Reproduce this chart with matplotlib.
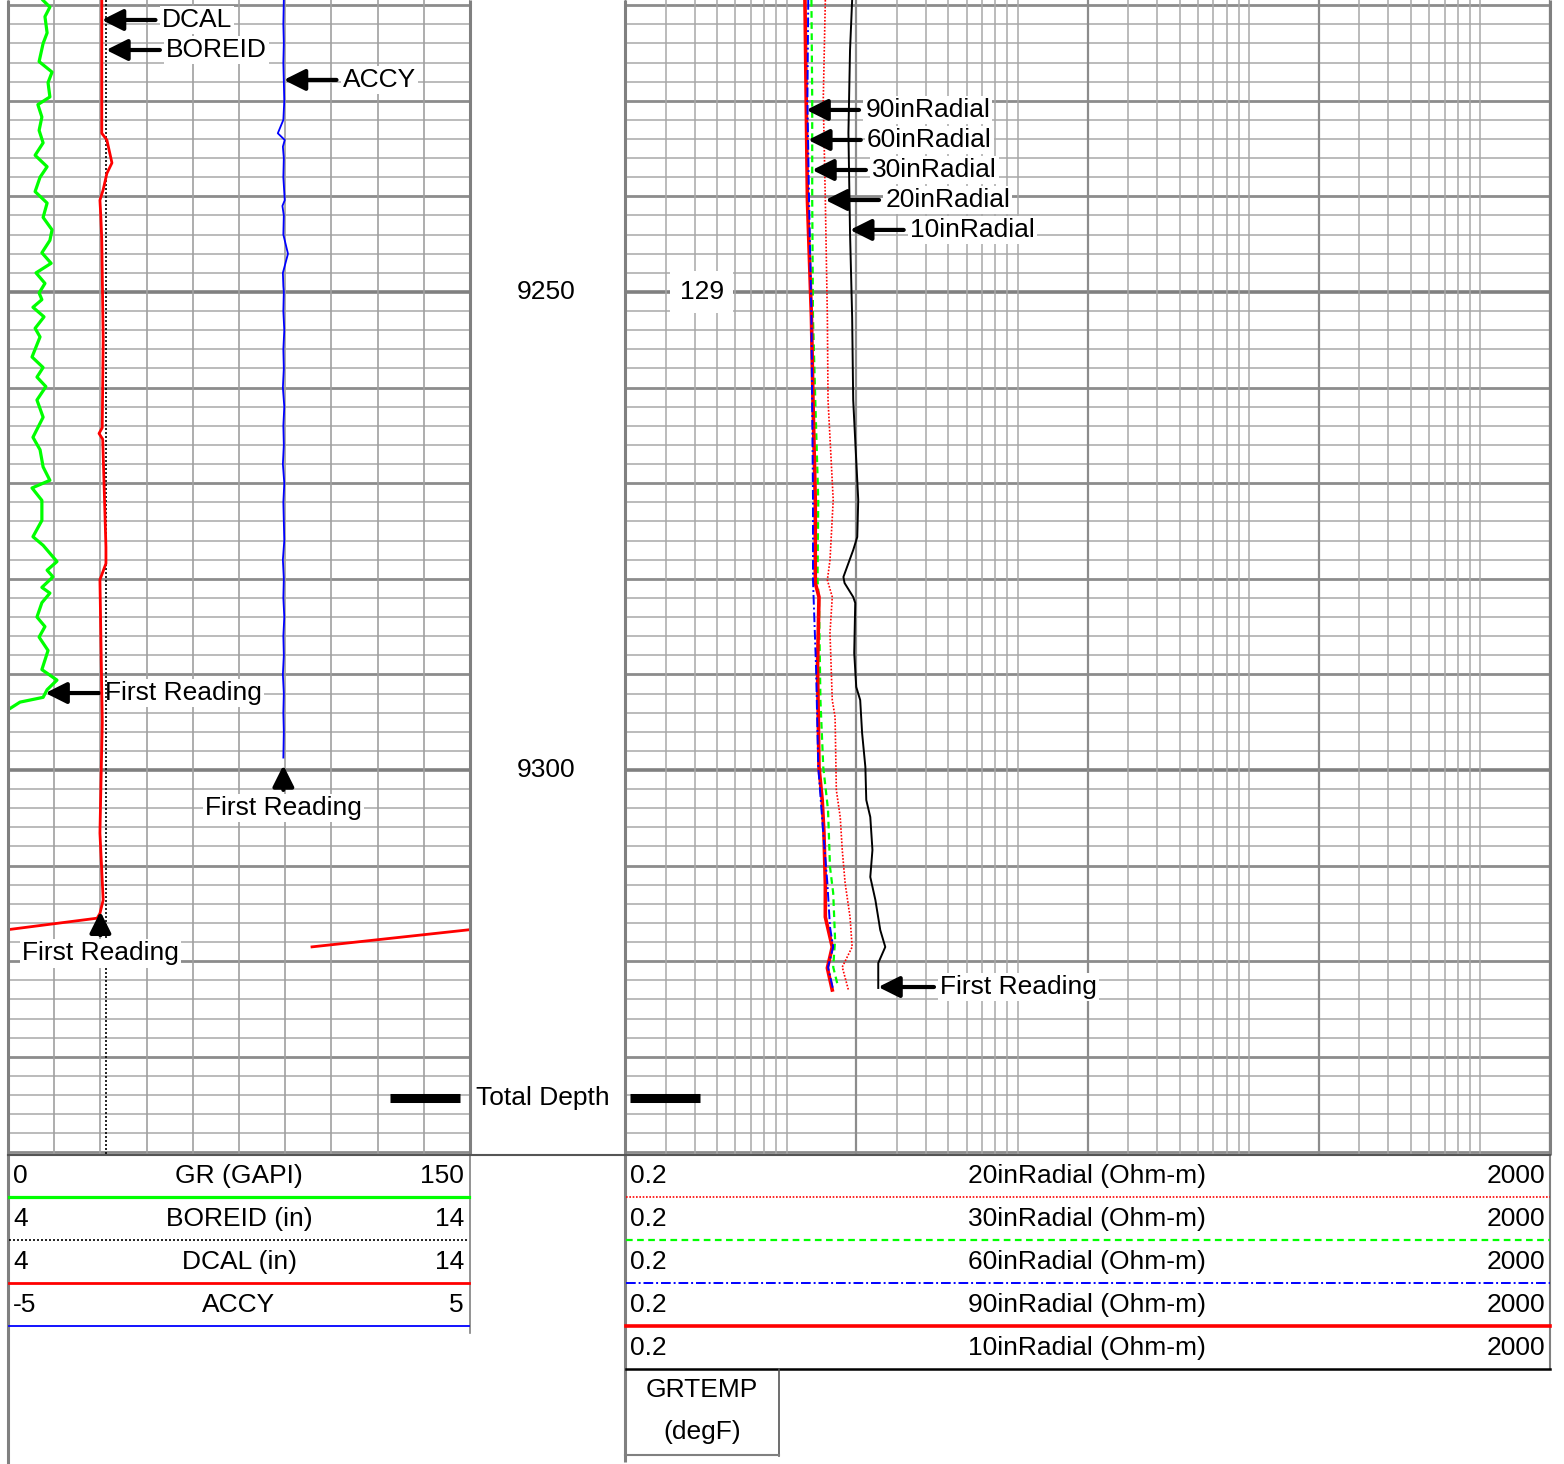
import numpy as np
import matplotlib
matplotlib.use('Agg')
import matplotlib.pyplot as plt
import matplotlib.transforms as mtransforms

plt.rcParams['font.family'] = ['Liberation Sans', 'DejaVu Sans']
FS = 19

# ---- depth window (ft) ----
top_depth = 9219.46
bottom_depth = 9340.27
depth_labels = [9250, 9300]
total_depth = 9334.3

# ---- track 1 curves ----
gr_depth = [9219.5, 9220.2, 9221.2, 9222.9, 9224.0, 9225.9, 9227.0, 9228.1, 9229.6, 9230.4,
            9231.7, 9233.1, 9234.4, 9235.7, 9236.9, 9238.0, 9239.5, 9240.7, 9242.2, 9243.5,
            9244.6, 9245.9, 9247.0, 9248.0, 9249.1, 9250.1, 9250.8, 9251.6, 9252.6, 9253.8,
            9254.7, 9256.8, 9257.9, 9258.9, 9259.9, 9261.3, 9263.1, 9265.2, 9266.5, 9268.3,
            9269.7, 9270.5, 9271.8, 9273.9, 9275.6, 9276.5, 9278.2, 9279.1, 9279.8, 9280.9,
            9281.5, 9282.5, 9284.0, 9285.0, 9286.1, 9287.5, 9289.5, 9290.6, 9291.6, 9292.4,
            9292.9, 9293.7]
gr_val = [11.4, 13.6, 12.0, 12.7, 11.4, 10.1, 14.3, 13.0, 13.6, 9.7,
          11.0, 10.1, 11.4, 8.8, 12.7, 10.4, 8.8, 12.7, 11.4, 14.3,
          13.6, 11.0, 14.0, 9.1, 12.0, 10.1, 11.0, 8.1, 11.7, 8.8,
          10.4, 7.8, 11.4, 9.4, 12.3, 9.4, 11.4, 8.1, 10.4, 11.4,
          13.6, 7.8, 11.0, 11.0, 8.1, 11.4, 15.9, 12.7, 14.6, 11.0,
          13.6, 11.0, 9.4, 12.0, 10.1, 13.0, 11.0, 15.9, 12.7, 11.4,
          3.9, 0.0]

dcal_depth = [9219.5, 9233.4, 9234.1, 9236.5, 9237.6, 9239.3, 9240.4, 9242.2, 9244.6, 9255.0,
              9264.2, 9264.8, 9265.4, 9276.7, 9278.4, 9280.1, 9295.0, 9306.6, 9313.6, 9315.0,
              9315.5, 9316.7, 9318.5]
dcal_val = [6.03, 6.03, 6.14, 6.25, 6.14, 6.06, 5.99, 6.01, 6.03, 6.06,
            6.04, 5.97, 6.05, 6.12, 6.12, 5.99, 6.04, 5.99, 6.06, 5.99,
            5.93, 4.0, 0.58]

boreid_depth = [9219.46, 9340.27]
boreid_val = [6.125, 6.125]

accy_depth = [9219.5, 9222, 9224, 9226, 9228, 9230, 9232, 9233.4, 9234.1, 9234.8,
              9236, 9238, 9240.4, 9241, 9242, 9244, 9246, 9248, 9249.4, 9250,
              9252, 9254, 9256, 9258, 9260, 9262, 9264, 9266, 9268, 9270,
              9272, 9274, 9276, 9278, 9280, 9282, 9284, 9286, 9288, 9290,
              9292, 9294, 9296, 9298.7]
accy_val = [0.97, 0.96, 0.97, 0.96, 0.97, 0.98, 0.96, 0.84, 0.99, 0.95,
            0.97, 0.96, 0.99, 0.94, 0.97, 0.96, 1.06, 0.95, 0.96, 0.97,
            0.96, 0.98, 0.96, 0.97, 0.95, 0.98, 0.96, 0.97, 0.95, 0.98,
            0.96, 0.97, 0.98, 0.95, 0.97, 0.96, 0.98, 0.96, 0.97, 0.95,
            0.97, 0.96, 0.97, 0.96]

# ---- track 2 resistivity curves (Ohm-m) ----
r10_depth = [9219.46, 9224.69, 9233.37, 9243.83, 9252.62, 9261.3, 9271.76, 9275.63, 9277.0,
             9279.81, 9280.44, 9281.9, 9282.53, 9287.76, 9291.32, 9292.68, 9296.13, 9299.69,
             9303.14, 9304.92, 9308.37, 9311.19, 9313.6, 9316.74, 9318.51, 9320.19, 9322.8]
r10_val = [1.92, 1.88, 1.85, 1.88, 1.92, 1.94, 2.04, 2.02, 1.94,
           1.76, 1.78, 1.94, 1.98, 1.96, 2.00, 2.08, 2.12, 2.19,
           2.21, 2.30, 2.35, 2.30, 2.42, 2.54, 2.67, 2.49, 2.49]

r20_depth = [9219.46, 9229.92, 9240.38, 9252.62, 9261.3, 9271.76, 9278.03, 9280.13, 9281.9,
             9285.67, 9292.68, 9294.46, 9302.09, 9304.92, 9308.37, 9311.82, 9315.38, 9318.51,
             9320.61, 9323.01]
r20_val = [1.47, 1.44, 1.47, 1.50, 1.51, 1.59, 1.54, 1.50, 1.575,
           1.54, 1.575, 1.62, 1.64, 1.705, 1.74, 1.79, 1.88, 1.92,
           1.74, 1.85]

r30_depth = [9219.46, 9229.92, 9240.38, 9252.62, 9261.3, 9271.76, 9280.13, 9282.22, 9292.68,
             9299.69, 9304.18, 9310.15, 9312.87, 9317.78, 9320.61, 9322.7]
r30_val = [1.28, 1.29, 1.29, 1.30, 1.33, 1.37, 1.36, 1.38, 1.40,
           1.44, 1.51, 1.54, 1.59, 1.62, 1.59, 1.67]

r60_depth = [9219.46, 9229.92, 9240.38, 9252.62, 9271.76, 9280.13, 9289.23, 9299.69, 9306.59,
             9311.82, 9316.42, 9318.51, 9320.61, 9323.01]
r60_val = [1.24, 1.23, 1.25, 1.28, 1.30, 1.30, 1.34, 1.37, 1.44,
           1.50, 1.54, 1.59, 1.51, 1.59]

r90_depth = [9219.46, 9229.92, 9240.38, 9252.62, 9261.3, 9271.76, 9280.44, 9281.9, 9289.23,
             9299.69, 9303.14, 9306.59, 9311.82, 9315.38, 9318.51, 9320.71, 9323.01]
r90_val = [1.20, 1.215, 1.23, 1.28, 1.30, 1.33, 1.33, 1.38, 1.36,
           1.38, 1.425, 1.45, 1.47, 1.47, 1.575, 1.50, 1.575]

grtemp_depth = [9250]
grtemp_val = [129]

# ---- header tables ----
t1_names = ['GR (GAPI)', 'BOREID (in)', 'DCAL (in)', 'ACCY']
t1_lo = ['0', '4', '4', '-5']
t1_hi = ['150', '14', '14', '5']
t2_names = ['20inRadial (Ohm-m)', '30inRadial (Ohm-m)', '60inRadial (Ohm-m)',
            '90inRadial (Ohm-m)', '10inRadial (Ohm-m)']
t2_lo = ['0.2'] * 5
t2_hi = ['2000'] * 5

# line styles
GREEN, RED, BLUE = '#00ff00', '#ff0000', '#0000ff'
st_gr = dict(color=GREEN, lw=2.3, ls='-')
st_bore = dict(color='black', lw=1.2, ls=(0, (1.2, 1.2)))
st_dcal = dict(color=RED, lw=2.0, ls='-')
st_accy = dict(color=BLUE, lw=1.3, ls='-')
st_r20 = dict(color=RED, lw=1.2, ls=(0, (1, 1)))
st_r30 = dict(color=GREEN, lw=1.6, ls=(0, (3, 2)))
st_r60 = dict(color=BLUE, lw=1.4, ls=(0, (5, 1.5, 1, 1.5)))
st_r90 = dict(color=RED, lw=2.6, ls='-')
st_r10 = dict(color='black', lw=1.4, ls='-')

W, H = 1564, 1464
fig = plt.figure(figsize=(W / 100, H / 100), dpi=100)


def px_axes(x0, y0, x1, y1, **kw):
    return fig.add_axes([x0 / W, 1 - y1 / H, (x1 - x0) / W, (y1 - y0) / H], **kw)


def depth_grid(ax):
    for d in range(9220, 9342, 2):
        if d % 50 == 0:
            c, lw = '#808080', 2.6
        elif d % 10 == 0:
            c, lw = '#8c8c8c', 2.0
        else:
            c, lw = '#a8a8a8', 1.1
        ax.axhline(d, color=c, lw=lw, zorder=0)


def arrow_label(ax, text, xy, dx=60, dy=0, ha='left'):
    ax.annotate(text, xy=xy, xytext=(dx * 0.72, -dy * 0.72), textcoords='offset points',
                ha=ha, va='center', fontsize=FS, zorder=20,
                bbox=dict(boxstyle='square,pad=0.08', fc='white', ec='none'),
                arrowprops=dict(arrowstyle='-|>', color='black', lw=3,
                                mutation_scale=32, shrinkA=3, shrinkB=0))


def hide(ax):
    for s in ax.spines.values():
        s.set_visible(False)
    ax.set_xticks([])
    ax.set_yticks([])


# ---- track 1 ----
ax1 = px_axes(8, 0, 470, 1155)
ax1.set_xlim(0, 150)
ax1.set_ylim(bottom_depth, top_depth)
hide(ax1)
depth_grid(ax1)
for v in np.linspace(0, 150, 11):
    ax1.axvline(v, color='#a0a0a0', lw=1.2, zorder=0)
ax1.plot(gr_val, gr_depth, **st_gr)

ax_cal = ax1.twiny()
ax_cal.set_xlim(4, 14)
ax_cal.set_ylim(bottom_depth, top_depth)
hide(ax_cal)
ax_cal.plot(boreid_val, boreid_depth, **st_bore)
dd = np.array(dcal_depth)
dv = np.array(dcal_val)
main = dv >= 4
wrap = dv <= 4
ax_cal.plot(dv[main], dd[main], **st_dcal)
ax_cal.plot(dv[wrap] + 10, dd[wrap], **st_dcal)

ax_acc = ax1.twiny()
ax_acc.set_xlim(-5, 5)
ax_acc.set_ylim(bottom_depth, top_depth)
hide(ax_acc)
ax_acc.plot(accy_val, accy_depth, **st_accy)

# labels track 1
d = 9221.55
arrow_label(ax_cal, 'DCAL', (np.interp(d, dcal_depth, dcal_val), d))
d = 9224.69
arrow_label(ax_cal, 'BOREID', (boreid_val[0], d))
d = 9227.82
arrow_label(ax_acc, 'ACCY', (np.interp(d, accy_depth, accy_val), d), dx=59)
d = 9291.95
arrow_label(ax1, 'First Reading', (np.interp(d, gr_depth, gr_val), d), dx=60)
d = accy_depth[-1] + 0.8
arrow_label(ax_acc, 'First Reading', (accy_val[-1], d), dx=0, dy=43, ha='center')
d = 9314.8
arrow_label(ax_cal, 'First Reading', (np.interp(d, dcal_depth, dcal_val), d), dx=0, dy=42, ha='center')

# ---- track 2 ----
ax2 = px_axes(625, 0, 1550, 1155)
ax2.set_xscale('log')
ax2.set_xlim(0.2, 2000)
ax2.set_ylim(bottom_depth, top_depth)
hide(ax2)
ax2.minorticks_off()
depth_grid(ax2)
for n in range(-1, 4):
    for k in range(1, 10):
        v = k * 10.0 ** n
        if 0.2 <= v <= 2000:
            heavy = k == 2
            ax2.axvline(v, color='#8c8c8c' if heavy else '#a8a8a8',
                        lw=1.6 if heavy else 1.1, zorder=0)
ax2.plot(r10_val, r10_depth, **st_r10)
ax2.plot(r20_val, r20_depth, **st_r20)
ax2.plot(r30_val, r30_depth, **st_r30)
ax2.plot(r90_val, r90_depth, **st_r90)
ax2.plot(r60_val, r60_depth, **st_r60)

label_depths = {'90inRadial': 9230.96, '60inRadial': 9234.1, '30inRadial': 9237.24,
                '20inRadial': 9240.38, '10inRadial': 9243.51}
for lab, dep, vals, dx in [('90inRadial', r90_depth, r90_val, 59),
                           ('60inRadial', r60_depth, r60_val, 59),
                           ('30inRadial', r30_depth, r30_val, 60),
                           ('20inRadial', r20_depth, r20_val, 60),
                           ('10inRadial', r10_depth, r10_val, 60)]:
    d = label_depths[lab]
    arrow_label(ax2, lab, (np.interp(d, dep, vals), d), dx=dx)
d = 9322.7
arrow_label(ax2, 'First Reading', (np.interp(d, r10_depth, r10_val), d), dx=62)

tr2 = mtransforms.blended_transform_factory(ax2.transAxes, ax2.transData)
for dep, val in zip(grtemp_depth, grtemp_val):
    ax2.text(0.083, dep, str(val), transform=tr2, ha='center', va='center', fontsize=FS,
             zorder=20, bbox=dict(boxstyle='square,pad=0.35', fc='white', ec='none'))

# ---- depth track ----
axd = px_axes(470, 0, 625, 1155, zorder=10)
axd.set_ylim(bottom_depth, top_depth)
axd.set_xlim(0, 1)
axd.set_facecolor('none')
hide(axd)
trd = mtransforms.blended_transform_factory(axd.transAxes, axd.transData)
for dep in depth_labels:
    axd.text(0.49, dep, str(dep), transform=trd, ha='center', va='center', fontsize=FS)
axd.text(0.47, total_depth, 'Total Depth', transform=trd, ha='center', va='center', fontsize=FS)
for x0, x1 in [(-0.516, -0.065), (1.032, 1.484)]:
    axd.plot([x0, x1], [total_depth, total_depth], transform=trd, color='black', lw=6.5,
             solid_capstyle='butt', clip_on=False)

# ---- overlay: borders and header ----
ov = fig.add_axes([0, 0, 1, 1], zorder=11)
ov.set_xlim(0, W)
ov.set_ylim(H, 0)
ov.set_facecolor('none')
ov.axis('off')

border = dict(color='#808080', lw=2.2, solid_capstyle='butt')
ov.plot([8, 8], [0, 1464], **border)
ov.plot([470, 470], [0, 1155], **border)
ov.plot([470, 470], [1155, 1333], color='#808080', lw=1.2)
ov.plot([625, 625], [0, 1462], **border)
ov.plot([1550, 1550], [0, 1155], **border)
ov.plot([1550, 1550], [1155, 1369], color='#808080', lw=1.5)
ov.plot([8, 1550], [1155, 1155], color='#555555', lw=1.5)

t1_styles = [st_gr, st_bore, st_dcal, st_accy]
for i, (nm, lo, hi, st) in enumerate(zip(t1_names, t1_lo, t1_hi, t1_styles)):
    ty = 1176 + 43 * i
    ly = 1197 + 43 * i
    ov.text(13, ty, lo, ha='left', va='center', fontsize=FS)
    ov.text(239, ty, nm, ha='center', va='center', fontsize=FS)
    ov.text(464, ty, hi, ha='right', va='center', fontsize=FS)
    ov.plot([9, 469], [ly, ly], **st)

t2_styles = [st_r20, st_r30, st_r60, st_r90, dict(color='black', lw=1.8, ls='-')]
for i, (nm, lo, hi, st) in enumerate(zip(t2_names, t2_lo, t2_hi, t2_styles)):
    ty = 1176 + 43 * i
    ly = 1197 + 43 * i
    ov.text(630, ty, lo, ha='left', va='center', fontsize=FS)
    ov.text(1087, ty, nm, ha='center', va='center', fontsize=FS)
    ov.text(1545, ty, hi, ha='right', va='center', fontsize=FS)
    ov.plot([626, 1550], [ly, ly], **st)

ov.plot([779, 779], [1369, 1456], color='#555555', lw=1.2)
ov.plot([625, 779], [1455, 1455], color='#808080', lw=1.5)
ov.text(702, 1390, 'GRTEMP', ha='center', va='center', fontsize=FS)
ov.text(702, 1432, '(degF)', ha='center', va='center', fontsize=FS)

fig.savefig('out.png', dpi=100, facecolor='white')
